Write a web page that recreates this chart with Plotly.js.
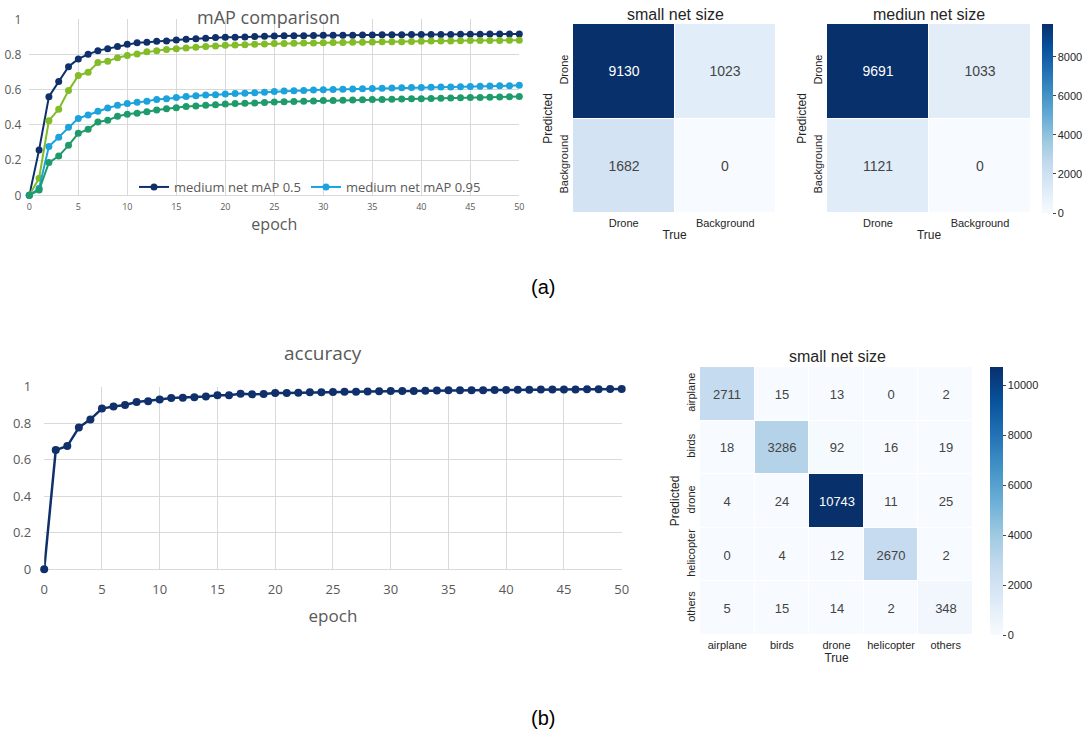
<!DOCTYPE html>
<html>
<head>
<meta charset="utf-8">
<script src="https://cdn.plot.ly/plotly-3.0.1.min.js"></script>
<style>html,body{margin:0;padding:0;background:#fff}#chart{width:1084px;height:732px}</style>
</head>
<body>
<div id="chart"></div>
<script>
// ---------- data ----------
const epochs = [0,1,2,3,4,5,6,7,8,9,10,11,12,13,14,15,16,17,18,19,20,21,22,23,24,25,26,27,28,29,30,31,32,33,34,35,36,37,38,39,40,41,42,43,44,45,46,47,48,49,50];
const mediumMap05 = [0,0.258,0.56,0.646,0.731,0.775,0.801,0.822,0.833,0.845,0.858,
  0.867,0.869,0.875,0.877,0.883,0.886,0.89,0.892,0.896,0.898,
  0.898,0.9,0.902,0.903,0.905,0.906,0.906,0.907,0.908,0.909,
  0.909,0.91,0.91,0.911,0.911,0.912,0.912,0.912,0.913,0.913,
  0.914,0.914,0.914,0.915,0.915,0.915,0.916,0.916,0.916,0.917];
const smallMap05 = [0,0.097,0.424,0.489,0.595,0.68,0.699,0.754,0.761,0.782,0.794,
  0.803,0.816,0.822,0.828,0.833,0.837,0.841,0.845,0.848,0.852,
  0.854,0.856,0.858,0.86,0.862,0.863,0.864,0.865,0.866,0.867,
  0.868,0.868,0.869,0.87,0.871,0.872,0.872,0.873,0.874,0.875,
  0.876,0.876,0.877,0.878,0.879,0.879,0.88,0.88,0.881,0.881];
const mediumMap095 = [0,0.04,0.277,0.33,0.386,0.437,0.456,0.477,0.496,0.511,0.521,
  0.528,0.534,0.545,0.549,0.555,0.561,0.566,0.57,0.572,0.576,
  0.578,0.58,0.582,0.585,0.59,0.592,0.594,0.596,0.598,0.6,
  0.601,0.603,0.604,0.606,0.607,0.608,0.609,0.611,0.612,0.613,
  0.614,0.615,0.616,0.617,0.618,0.619,0.621,0.622,0.623,0.625];
const smallMap095 = [0,0.03,0.186,0.223,0.284,0.352,0.375,0.417,0.426,0.449,0.46,
  0.466,0.475,0.485,0.492,0.498,0.504,0.508,0.511,0.515,0.519,
  0.521,0.523,0.525,0.527,0.53,0.532,0.533,0.535,0.536,0.538,
  0.539,0.54,0.541,0.543,0.544,0.545,0.546,0.547,0.548,0.549,
  0.55,0.551,0.553,0.554,0.555,0.556,0.557,0.558,0.56,0.561];
const accuracy = [0,0.653,0.675,0.776,0.821,0.88,0.892,0.9,0.916,0.921,0.93,
  0.938,0.94,0.942,0.947,0.953,0.953,0.962,0.958,0.96,0.965,
  0.965,0.967,0.969,0.969,0.971,0.972,0.973,0.974,0.975,0.976,
  0.977,0.977,0.978,0.979,0.98,0.98,0.981,0.981,0.982,0.982,
  0.983,0.983,0.984,0.984,0.985,0.985,0.986,0.986,0.987,0.987];

const binLabels = ["Drone","Background"];
const smallBinary = [[9130,1023],[1682,0]];
const mediumBinary = [[9691,1033],[1121,0]];
const classLabels = ["airplane","birds","drone","helicopter","others"];
const smallMulti = [
  [2711,15,13,0,2],
  [18,3286,92,16,19],
  [4,24,10743,11,25],
  [0,4,12,2670,2],
  [5,15,14,2,348]
];

// ---------- layout helpers ----------
const W = 1084, H = 732;
const px = v => v / W;
const py = v => 1 - v / H;

const blues = [[0,'#f7fbff'],[0.125,'#deebf7'],[0.25,'#c6dbef'],[0.375,'#9ecae1'],[0.5,'#6baed6'],[0.625,'#4292c6'],[0.75,'#2171b5'],[0.875,'#08519c'],[1,'#08306b']];
const xlGray = '#595959', grid = '#d9d9d9';
const sansXL = 'Open Sans, sans-serif';
const sansSB = 'Liberation Sans, Arial, sans-serif';
const sbText = '#262626';

function lineTrace(y, name, color, xa, ya, show, msize, lw) {
  return {type:'scatter', mode:'lines+markers', x:epochs, y:y, name:name,
    xaxis:xa, yaxis:ya, showlegend:show, cliponaxis:false,
    line:{color:color, width:lw}, marker:{color:color, size:msize}};
}

const traces = [
  lineTrace(mediumMap05, 'medium net mAP 0.5', '#10306b', 'x', 'y', true, 7, 2),
  lineTrace(smallMap05, 'small net mAP 0.5', '#82bc26', 'x', 'y', false, 7, 2),
  lineTrace(mediumMap095, 'medium net mAP 0.95', '#1ca2dc', 'x', 'y', true, 7, 2),
  lineTrace(smallMap095, 'small net mAP 0.95', '#1f9b6b', 'x', 'y', false, 7, 2),
  lineTrace(accuracy, 'accuracy', '#10306b', 'x4', 'y4', false, 8, 2.5),
  {type:'heatmap', z:smallBinary, x:binLabels, y:binLabels, xaxis:'x2', yaxis:'y2',
    colorscale:blues, zmin:0, showscale:false, xgap:1, ygap:1,
    texttemplate:'%{z:d}', textfont:{family:sansSB, size:14}, hoverinfo:'z'},
  {type:'heatmap', z:mediumBinary, x:binLabels, y:binLabels, xaxis:'x3', yaxis:'y3',
    colorscale:blues, zmin:0, xgap:1, ygap:1,
    texttemplate:'%{z:d}', textfont:{family:sansSB, size:14}, hoverinfo:'z',
    colorbar:{x:px(1042), xanchor:'left', y:py(118.5), yanchor:'middle', len:189/H, lenmode:'fraction',
      thickness:11, outlinewidth:0, ticks:'outside', ticklen:3, tickcolor:'#444', xpad:0, ypad:0,
      tickformat:'d', tickvals:[0,2000,4000,6000,8000], tickfont:{family:sansSB, size:11, color:sbText}}},
  {type:'heatmap', z:smallMulti, x:classLabels, y:classLabels, xaxis:'x5', yaxis:'y5',
    colorscale:blues, zmin:0, xgap:1, ygap:1,
    texttemplate:'%{z:d}', textfont:{family:sansSB, size:13}, hoverinfo:'z',
    colorbar:{x:px(990), xanchor:'left', y:py(501), yanchor:'middle', len:268/H, lenmode:'fraction',
      thickness:13, outlinewidth:0, ticks:'outside', ticklen:3, tickcolor:'#444', xpad:0, ypad:0,
      tickformat:'d', tickvals:[0,2000,4000,6000,8000,10000], tickfont:{family:sansSB, size:11, color:sbText}}}
];

function lineX(domain, anchor, tsize, titleText, titleSize, standoff, labStand) {
  return {domain:domain, anchor:anchor, range:[0,50], tick0:0, dtick:5, showgrid:true, gridcolor:grid,
    zeroline:false, showline:false, ticks:'', ticklabelstandoff:labStand,
    tickfont:{family:sansXL, size:tsize, color:xlGray},
    title:{text:titleText, font:{family:sansXL, size:titleSize, color:xlGray}, standoff:standoff}};
}
function lineY(domain, anchor, tsize, standoff) {
  return {domain:domain, anchor:anchor, range:[0,1], tick0:0, dtick:0.2, showgrid:true, gridcolor:grid,
    zeroline:true, zerolinecolor:grid, zerolinewidth:1, showline:false, ticks:'', ticklabelstandoff:standoff,
    tickfont:{family:sansXL, size:tsize, color:xlGray}};
}
function heatX(domain, anchor, cats) {
  return {domain:domain, anchor:anchor, type:'category', categoryarray:cats, showgrid:false, zeroline:false,
    showline:false, ticks:'', ticklabelstandoff:2, tickfont:{family:sansSB, size:11, color:sbText},
    title:{text:'True', font:{family:sansSB, size:12, color:sbText}, standoff:2}};
}
function heatY(domain, anchor, cats) {
  return {domain:domain, anchor:anchor, type:'category', categoryarray:cats, autorange:'reversed',
    showgrid:false, zeroline:false, showline:false, ticks:'', tickangle:-90, ticklabelstandoff:2,
    tickfont:{family:sansSB, size:11, color:sbText},
    title:{text:'Predicted', font:{family:sansSB, size:12, color:sbText}, standoff:2}};
}

const layout = {
  width:W, height:H, margin:{l:0,r:0,t:0,b:0}, paper_bgcolor:'#fff', plot_bgcolor:'#fff',
  showlegend:true,
  legend:{x:px(134), y:py(187), xanchor:'left', yanchor:'middle', orientation:'h', bgcolor:'rgba(0,0,0,0)',
    font:{family:sansXL, size:13, color:xlGray}, itemwidth:30, traceorder:'normal'},
  xaxis: lineX([px(29.3), px(519.3)], 'y', 9, 'epoch', 16, 0, 5),
  yaxis: lineY([py(195.3), py(19.3)], 'x', 12, 7),
  xaxis4: lineX([px(44.2), px(621.7)], 'y4', 13, 'epoch', 17, 12, 11),
  yaxis4: lineY([py(569.3), py(386.7)], 'x4', 13, 12),
  xaxis2: heatX([px(573), px(776)], 'y2', binLabels),
  yaxis2: heatY([py(213), py(24)], 'x2', binLabels),
  xaxis3: heatX([px(827), px(1031)], 'y3', binLabels),
  yaxis3: heatY([py(213), py(24)], 'x3', binLabels),
  xaxis5: heatX([px(700), px(973)], 'y5', classLabels),
  yaxis5: heatY([py(635), py(367)], 'x5', classLabels),
  annotations:[
    {text:'mAP comparison', x:px(268), y:py(17), xref:'paper', yref:'paper', showarrow:false,
      xanchor:'center', yanchor:'middle', font:{family:sansXL, size:18, color:xlGray}},
    {text:'accuracy', x:px(323), y:py(353), xref:'paper', yref:'paper', showarrow:false,
      xanchor:'center', yanchor:'middle', font:{family:sansXL, size:19, color:xlGray}},
    {text:'small net size', x:px(675), y:py(15), xref:'paper', yref:'paper', showarrow:false,
      xanchor:'center', yanchor:'middle', font:{family:sansSB, size:16, color:sbText}},
    {text:'mediun net size', x:px(929), y:py(15), xref:'paper', yref:'paper', showarrow:false,
      xanchor:'center', yanchor:'middle', font:{family:sansSB, size:16, color:sbText}},
    {text:'small net size', x:px(837), y:py(357), xref:'paper', yref:'paper', showarrow:false,
      xanchor:'center', yanchor:'middle', font:{family:sansSB, size:16, color:sbText}},
    {text:'(a)', x:px(543), y:py(287), xref:'paper', yref:'paper', showarrow:false,
      xanchor:'center', yanchor:'middle', font:{family:sansSB, size:20, color:'#000'}},
    {text:'(b)', x:px(543), y:py(718), xref:'paper', yref:'paper', showarrow:false,
      xanchor:'center', yanchor:'middle', font:{family:sansSB, size:20, color:'#000'}}
  ]
};

Plotly.newPlot('chart', traces, layout, {displayModeBar:false, staticPlot:true});
</script>
</body>
</html>
